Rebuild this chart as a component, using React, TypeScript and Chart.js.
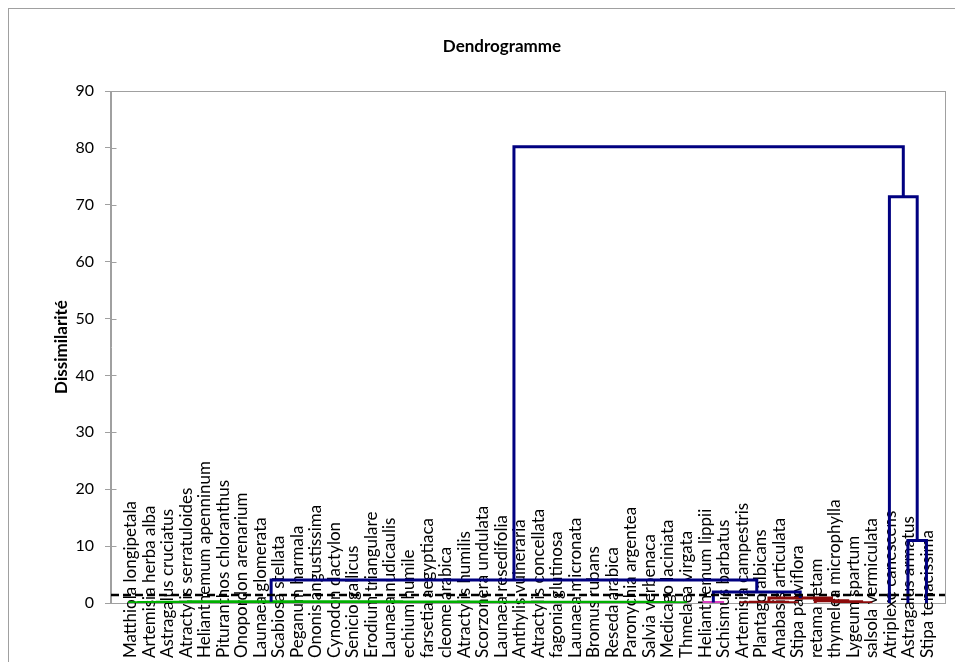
import React, { useEffect, useRef } from "react";
import { Chart, registerables } from "chart.js";

Chart.register(...registerables);

// ---- data ----
const chartTitle = "Dendrogramme";
const yAxisTitle = "Dissimilarité";

const leafNames = [
  "Matthiola longipetala",
  "Artemisia herba alba",
  "Astragalus cruciatus",
  "Atractylis serratuloides",
  "Helianthemum apenninum",
  "Pituranthos chloranthus",
  "Onopordon arenarium",
  "Launaea glomerata",
  "Scabiosa stellata",
  "Peganum harmala",
  "Ononis angustissima",
  "Cynodon dactylon",
  "Senicio gallicus",
  "Erodium triangulare",
  "Launaea nudicaulis",
  "echium humile",
  "farsetia aegyptiaca",
  "cleome arabica",
  "Atractylis humilis",
  "Scorzonera undulata",
  "Launaea resedifolia",
  "Anthylis vulneraria",
  "Atractylis concellata",
  "fagonia glutinosa",
  "Launaea micronata",
  "Bromus rubans",
  "Reseda arabica",
  "Paronychia argentea",
  "Salvia verbenaca",
  "Medicago laciniata",
  "Thmelaea virgata",
  "Helianthemum lippii",
  "Schismus barbatus",
  "Artemisia campestris",
  "Plantago albicans",
  "Anabasis articulata",
  "Stipa parviflora",
  "retama retam",
  "thymelea microphylla",
  "Lygeum spartum",
  "salsola vermiculata",
  "Atriplexe canescens",
  "Astragalus armatus",
  "Stipa tenacissima",
];

// hclust-style merges: negative = leaf number, positive = earlier merge row; third = height
const merges: [number, number, number][] = [
  [-1, -2, 0.03],
  [-3, -4, 0.05],
  [1, 2, 0.08],
  [-7, -8, 0.04],
  [-6, 4, 0.07],
  [-5, 5, 0.1],
  [3, 6, 0.12],
  [-9, -10, 0.04],
  [-11, -12, 0.05],
  [-13, -14, 0.03],
  [-15, -16, 0.05],
  [-17, -18, 0.04],
  [-19, -20, 0.06],
  [-21, -22, 0.03],
  [-23, -24, 0.04],
  [-25, -26, 0.05],
  [14, 15, 0.07],
  [17, 16, 0.09],
  [-27, -28, 0.04],
  [-29, -30, 0.05],
  [20, -31, 0.06],
  [19, 21, 0.08],
  [18, 22, 0.11],
  [13, 23, 0.13],
  [12, 24, 0.15],
  [11, 25, 0.17],
  [10, 26, 0.18],
  [8, 9, 0.07],
  [28, 27, 0.2],
  [7, 29, 0.22],
  [-32, -33, 0.1],
  [-34, -35, 0.05],
  [-36, -37, 0.06],
  [32, 33, 0.15],
  [-40, -41, 0.05],
  [-39, 35, 0.2],
  [-38, 36, 0.4],
  [34, 37, 0.9],
  [31, 38, 1.93],
  [30, 39, 4.04],
  [-43, -44, 11.0],
  [-42, 41, 71.4],
  [40, 42, 80.2],
];

const truncationLevel = 1.4;
const yMin = 0;
const yMax = 90;
const yStep = 10;
const classColors = ["#00b000", "#d93fbf", "#8c0a0a"];
const upperColor = "#000080";

// ---- layout / style ----
const FONT = "Lato, 'Open Sans', sans-serif";
const GRAY = "#a0a0a0";
const CANVAS_W = 986;
const CANVAS_H = 700;

function buildDatasets() {
  const nodeX: number[] = [];
  const nodeH: number[] = [];
  const ref = (r: number) =>
    r < 0 ? { x: -r, h: 0 } : { x: nodeX[r - 1], h: nodeH[r - 1] };
  merges.forEach(([a, b, h], i) => {
    nodeX[i] = (ref(a).x + ref(b).x) / 2;
    nodeH[i] = h;
  });
  const nodeColor: string[] = [];
  let classIdx = 0;
  const assign = (r: number, inherited: string | null) => {
    if (r < 0) return;
    const i = r - 1;
    const h = merges[i][2];
    let col: string;
    if (h > truncationLevel) col = upperColor;
    else if (inherited) col = inherited;
    else col = classColors[classIdx++ % classColors.length];
    nodeColor[i] = col;
    const next = h > truncationLevel ? null : col;
    assign(merges[i][0], next);
    assign(merges[i][1], next);
  };
  assign(merges.length, null);

  const byColor: Record<string, any[]> = {};
  merges.forEach(([a, b, h], i) => {
    const pa = ref(a);
    const pb = ref(b);
    const col = nodeColor[i];
    if (!byColor[col]) byColor[col] = [];
    byColor[col].push(
      { x: pa.x, y: pa.h },
      { x: pa.x, y: h },
      { x: pb.x, y: h },
      { x: pb.x, y: pb.h },
      { x: pb.x, y: null }
    );
  });

  const sets: any[] = [
    {
      label: "truncation",
      data: [
        { x: 0, y: truncationLevel },
        { x: leafNames.length + 1, y: truncationLevel },
      ],
      borderColor: "#000",
      borderWidth: 2.5,
      borderDash: [8, 4],
      pointRadius: 0,
      order: 0,
    },
  ];
  const colorOrder = [upperColor, ...classColors];
  colorOrder.forEach((c) => {
    if (!byColor[c]) return;
    sets.push({
      label: c,
      data: byColor[c],
      borderColor: c,
      borderWidth: 3,
      pointRadius: 0,
      spanGaps: false,
      borderCapStyle: "butt",
      borderJoinStyle: "miter",
      tension: 0,
      order: 1,
    });
  });
  return sets;
}

const framePlugin = {
  id: "frame",
  beforeDatasetsDraw(chart: any) {
    const { ctx, chartArea } = chart;
    const y = chart.scales.y;
    ctx.save();
    ctx.strokeStyle = GRAY;
    ctx.lineWidth = 1;
    const l = Math.round(chartArea.left) - 0.5;
    const t = Math.round(chartArea.top) + 0.5;
    const r = Math.round(chartArea.right) + 0.5;
    const b = Math.round(chartArea.bottom) + 0.5;
    ctx.strokeRect(l, t, r - l, b - t);
    ctx.beginPath();
    for (let v = yMin; v <= yMax; v += yStep) {
      const py = Math.round(y.getPixelForValue(v)) + 0.5;
      ctx.moveTo(l, py);
      ctx.lineTo(l + 6, py);
    }
    ctx.stroke();

    // leaf labels
    const xs = chart.scales.x;
    ctx.fillStyle = "#000";
    ctx.font = `17px ${FONT}`;
    ctx.textAlign = "left";
    ctx.textBaseline = "middle";
    leafNames.forEach((name, i) => {
      const px = xs.getPixelForValue(i + 1);
      ctx.save();
      ctx.translate(px + 1, 649);
      ctx.rotate(-Math.PI / 2);
      ctx.fillText(name, 0, 0);
      ctx.restore();
    });
    ctx.restore();
  },
};

function DendroChart() {
  const ref = useRef<HTMLCanvasElement | null>(null);
  useEffect(() => {
    if (!ref.current) return;
    const chart = new Chart(ref.current, {
      type: "line",
      data: { datasets: buildDatasets() },
      options: {
        responsive: false,
        animation: false,
        devicePixelRatio: 1,
        layout: { padding: { left: 0, right: 0, top: 0, bottom: 106 } },
        plugins: {
          legend: { display: false },
          tooltip: { enabled: false },
          title: {
            display: true,
            text: chartTitle,
            color: "#000",
            font: { family: FONT, size: 17, weight: "bold" },
            padding: { top: 27.8, bottom: 33.8 },
          },
        },
        scales: {
          x: {
            type: "linear",
            min: 0,
            max: leafNames.length + 1,
            display: false,
          },
          y: {
            type: "linear",
            min: yMin,
            max: yMax,
            afterFit: (s: any) => {
              s.width = 102;
            },
            ticks: {
              stepSize: yStep,
              color: "#000",
              font: { family: FONT, size: 16 },
              padding: 11,
            },
            grid: {
              drawOnChartArea: false,
              drawTicks: true,
              tickLength: 6,
              color: GRAY,
            },
            border: { display: true, color: GRAY, width: 1 },
            title: {
              display: true,
              text: yAxisTitle,
              color: "#000",
              font: { family: FONT, size: 17, weight: "bold" },
              padding: { top: 42.8, bottom: 0 },
            },
          },
          yRight: {
            type: "linear",
            position: "right",
            min: yMin,
            max: yMax,
            display: true,
            ticks: { display: false },
            grid: { display: false },
            border: { display: false },
            afterFit: (s: any) => {
              s.width = 50;
            },
          },
        },
      },
      plugins: [framePlugin],
    } as any);
    return () => chart.destroy();
  }, []);
  return (
    <canvas
      ref={ref}
      width={CANVAS_W}
      height={CANVAS_H}
      style={{ display: "block", width: CANVAS_W, height: CANVAS_H }}
    />
  );
}

export default function App() {
  return (
    <div style={{ width: 955, height: 654, overflow: "hidden" }}>
      <div
        style={{
          width: CANVAS_W,
          height: CANVAS_H,
          border: `1px solid ${GRAY}`,
          background: "#fff",
        }}
      >
        <DendroChart />
      </div>
    </div>
  );
}
